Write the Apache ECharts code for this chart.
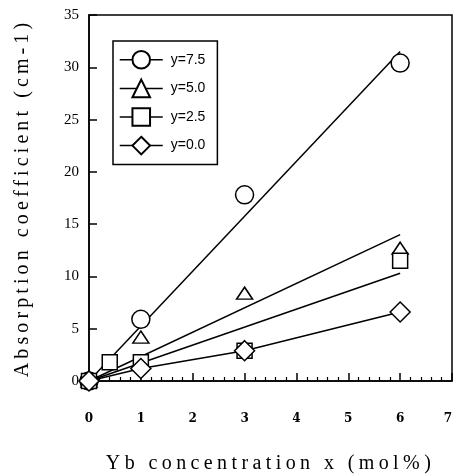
<!DOCTYPE html>
<html>
<head>
<meta charset="utf-8">
<script src="https://cdn.jsdelivr.net/npm/echarts@6/dist/echarts.min.js"></script>
<style>
  html, body { margin: 0; padding: 0; background: #fff; }
  #chart { width: 454px; height: 475px; }
</style>
</head>
<body>
<div id="chart"></div>
<script>
const seriesNames = ['y=7.5', 'y=5.0', 'y=2.5', 'y=0.0']
const xPts = [0, 1, 3, 6]
const xSquare = [0, 0.4, 1, 3, 6]
const circleY = [0, 5.9, 17.8, 30.4]
const triangleY = [0, 4.2, 8.4, 12.7]
const squareY = [0, 1.8, 1.8, 2.9, 11.5]
const diamondY = [0, 1.2, 2.9, 6.6]

// straight fit lines (end points)
const fitX = [0, 6]
const fitCircle = [0, 31.5]
const fitTriangle = [0, 14.0]
const fitSquare = [0, 10.3]

const xTicks = [0, 1, 2, 3, 4, 5, 6, 7]
const yTicks = [0, 5, 10, 15, 20, 25, 30, 35]

const xTitle = 'Yb concentration x (mol%)'
const yTitle = 'Absorption coefficient (cm-1)'

// the scanned axis titles are widely letter-spaced; canvas can do that per call
const spacing = { [xTitle]: '4.4px', [yTitle]: '4.1px' }
const rawFillText = CanvasRenderingContext2D.prototype.fillText
CanvasRenderingContext2D.prototype.fillText = function (text) {
  if (!spacing[text] || !('letterSpacing' in this)) {
    return rawFillText.apply(this, arguments)
  }
  const font = this.font
  this.save()
  this.letterSpacing = spacing[text]
  this.font = font
  rawFillText.apply(this, arguments)
  this.restore()
  this.font = font
}

const pairs = (xs, ys) => xs.map((x, i) => [x, ys[i]])

const markerStyle = { color: '#fff', borderColor: '#000', borderWidth: 1.5 }

const fit = (ys) => ({
  type: 'line',
  data: pairs(fitX, ys),
  symbol: 'none',
  silent: true,
  z: 1,
  lineStyle: { color: '#000', width: 1.5 }
})

const points = (name, symbol, size, xs, ys, showLine) => ({
  name,
  type: 'line',
  data: pairs(xs, ys),
  symbol,
  symbolSize: size,
  showAllSymbol: true,
  z: 3,
  itemStyle: markerStyle,
  lineStyle: { color: '#000', width: 1.5, opacity: showLine ? 1 : 0 }
})

const titleFont = { fontFamily: 'Liberation Serif', fontSize: 20, color: '#000' }

const chart = echarts.init(document.getElementById('chart'))

chart.setOption({
  animation: false,
  backgroundColor: '#fff',
  grid: {
    left: 89,
    right: 2,
    top: 15,
    bottom: 94,
    outerBoundsMode: 'none',
    show: true,
    borderColor: '#000',
    borderWidth: 1.5
  },
  legend: {
    data: seriesNames,
    orient: 'vertical',
    left: 113,
    top: 41,
    padding: [9, 12, 9, 6],
    itemWidth: 43,
    itemHeight: 22,
    itemGap: 9,
    borderColor: '#000',
    borderWidth: 1.5,
    lineStyle: { color: '#000', width: 1.5, opacity: 1 },
    textStyle: {
      fontFamily: 'Liberation Sans',
      fontSize: 14,
      color: '#000',
      padding: [0, 0, 0, 3]
    }
  },
  xAxis: {
    type: 'value',
    min: xTicks[0],
    max: xTicks[xTicks.length - 1],
    interval: 1,
    name: xTitle,
    nameLocation: 'middle',
    nameGap: 73,
    nameTextStyle: titleFont,
    axisLine: { lineStyle: { color: '#000', width: 1.5 } },
    axisTick: { inside: true, length: 8, lineStyle: { color: '#000', width: 1.5 } },
    minorTick: { show: true, splitNumber: 5, length: 4, lineStyle: { color: '#000', width: 1.2 } },
    splitLine: { show: false },
    axisLabel: {
      margin: 32,
      alignMaxLabel: 'right',
      fontFamily: 'DejaVu Serif',
      fontWeight: 'bold',
      fontSize: 12,
      color: '#000'
    }
  },
  yAxis: {
    type: 'value',
    min: yTicks[0],
    max: yTicks[yTicks.length - 1],
    interval: 5,
    name: yTitle,
    nameLocation: 'middle',
    nameGap: 56,
    nameTextStyle: titleFont,
    axisLine: { lineStyle: { color: '#000', width: 1.5 } },
    axisTick: { inside: true, length: 8, lineStyle: { color: '#000', width: 1.5 } },
    splitLine: { show: false },
    axisLabel: {
      margin: 10,
      fontFamily: 'Liberation Serif',
      fontSize: 15,
      color: '#000'
    }
  },
  series: [
    fit(fitCircle),
    fit(fitTriangle),
    fit(fitSquare),
    points(seriesNames[0], 'circle', 18, xPts, circleY, false),
    points(seriesNames[1], 'triangle', [16, 12], xPts, triangleY, false),
    points(seriesNames[2], 'rect', 15, xSquare, squareY, false),
    points(seriesNames[3], 'diamond', 20, xPts, diamondY, true)
  ]
})
</script>
</body>
</html>
